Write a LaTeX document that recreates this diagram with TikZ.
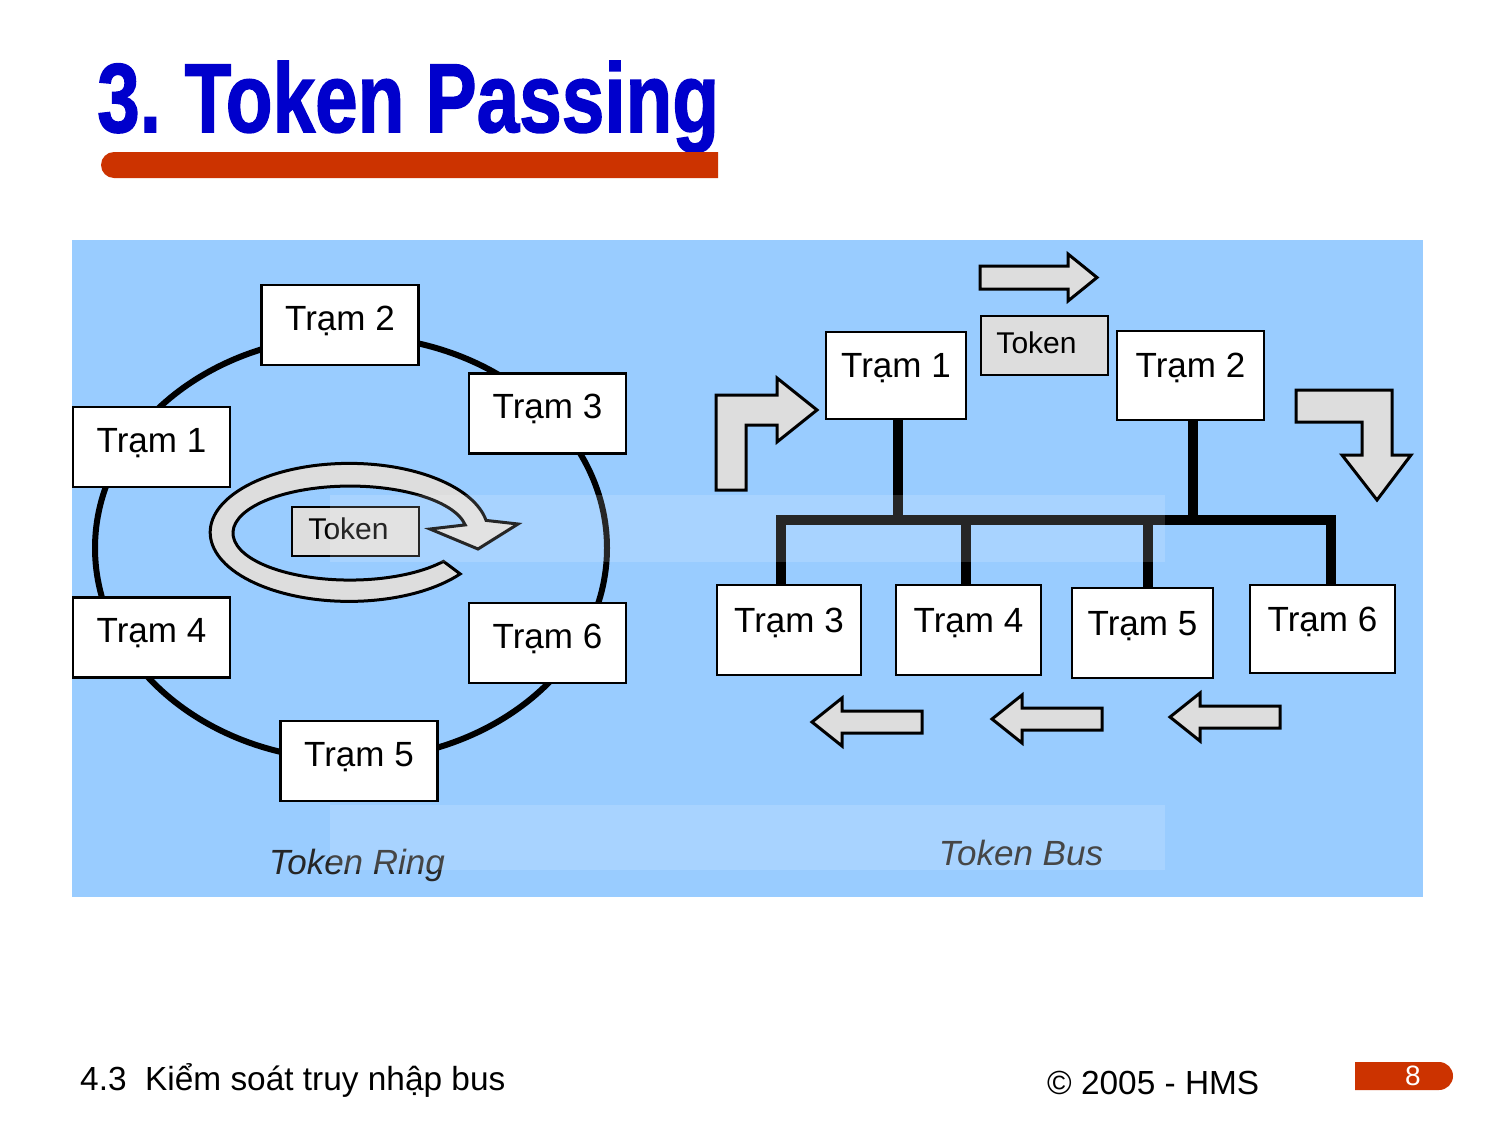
\documentclass[tikz,border=0pt]{standalone}
\usepackage{fontspec}
\setmainfont{Liberation Sans}
\newfontfamily\titlefont{Liberation Sans Bold}[FakeBold=1.6]
\usepackage{xcolor}
\definecolor{panelblue}{HTML}{99CCFF}
\definecolor{titleblue}{HTML}{0000CC}
\definecolor{barred}{HTML}{CC3300}
\definecolor{tokengray}{HTML}{DDDDDD}
\tikzset{
  station/.style={draw, line width=2.5pt, fill=white, inner sep=0pt,
    font=\fontsize{35}{35}\selectfont, text height=25pt, text depth=15pt},
  ringstation/.style={station, minimum width=157pt, minimum height=80pt},
  busstation/.style={station, text depth=21pt},
  tokenbox/.style={draw, line width=2.5pt, fill=tokengray, inner sep=0pt,
    font=\fontsize{30}{30}\selectfont, text height=21pt, text depth=6pt},
  blockarrow/.style={draw, line width=3pt, fill=tokengray, line join=miter},
  bus/.style={line width=10pt, line join=miter},
  caption/.style={font=\fontsize{35}{35}\selectfont\itshape, text=black!85}
}
\begin{document}
\begin{tikzpicture}[x=1pt, y=-1pt]
  \useasboundingbox[fill=white] (0,0) rectangle (1495,1122);
  % title and bar
  \node[anchor=base west, inner sep=0pt, text=titleblue,
    font=\fontsize{98}{98}\titlefont] (title) at (97,132)
    {\scalebox{0.781}[1]{3.\kern-6pt{} Token Passing}};
  \fill[barred] (718,152) -- (114,152) arc[start angle=270, end angle=90, radius=13] -- (718,178) -- cycle;
  % panel
  \fill[panelblue] (72,240) rectangle (1423,897);

  % token ring
  \draw[line width=6pt] (351,548) ellipse [x radius=256, y radius=212];
  \node[ringstation] (r2) at (340,325) {Trạm 2};
  \node[ringstation] (r3) at (547.5,413.5) {Trạm 3};
  \node[ringstation] (r1) at (151.5,447) {Trạm 1};
  \node[ringstation] (r4) at (151.5,637.5) {Trạm 4};
  \node[ringstation] (r6) at (547.5,643) {Trạm 6};
  \node[ringstation] (r5) at (359,761) {Trạm 5};
  \draw[blockarrow] (460.2,573.9) arc[start angle=37, end angle=350, x radius=139, y radius=69]
    -- (518,524) -- (478,549) -- (430,529) -- (465.2,524.9)
    arc[start angle=350, end angle=37, x radius=117, y radius=47] -- cycle;
  \node[tokenbox, minimum width=127pt, minimum height=49pt] (rtoken) at (355.5,531.5) {Token\kern14pt};

  % token bus
  \node[busstation, minimum width=140pt, minimum height=87pt] (b1) at (896,375.5) {Trạm 1};
  \node[busstation, minimum width=147pt, minimum height=89pt] (b2) at (1190.5,375.5) {Trạm 2};
  \node[tokenbox, minimum width=127pt, minimum height=59pt] (btoken) at (1044.5,345.5) {Token\kern16pt};
  \node[busstation, minimum width=144pt, minimum height=90pt] (b3) at (789,630) {Trạm 3};
  \node[busstation, minimum width=145pt, minimum height=90pt] (b4) at (968.5,630) {Trạm 4};
  \node[busstation, minimum width=141pt, minimum height=90pt] (b5) at (1142.5,633) {Trạm 5};
  \node[busstation, minimum width=145pt, minimum height=88pt] (b6) at (1322.5,629) {Trạm 6};
  \coordinate (bus) at (0,520);
  \coordinate (b3top) at ([xshift=-8pt]b3.north);
  \coordinate (b6top) at ([xshift=8pt]b6.north);
  \draw[bus] (b3top) |- (bus -| b6top) -- (b6top);
  \draw[bus] ([xshift=2pt]b1.south) -- ([xshift=2pt]b1.south |- bus);
  \draw[bus] ([xshift=2pt]b2.south) -- ([xshift=2pt]b2.south |- bus);
  \draw[bus] ([xshift=-3pt]b4.north) -- ([xshift=-3pt]b4.north |- bus);
  \draw[bus] ([xshift=5pt]b5.north) -- ([xshift=5pt]b5.north |- bus);
  % arrows
  \draw[blockarrow] (980,266) -- (1068,266) -- (1068,254) -- (1097,277.5) -- (1068,301) -- (1068,289) -- (980,289) -- cycle;
  \draw[blockarrow] (716,490) -- (716,395) -- (777,395) -- (777,378) -- (817,410) -- (777,442) -- (777,425) -- (746,425) -- (746,490) -- cycle;
  \draw[blockarrow] (1296,390) -- (1392,390) -- (1392,455) -- (1411,455) -- (1377,500) -- (1342,455) -- (1362,455) -- (1362,422) -- (1296,422) -- cycle;
  \foreach \dx/\dy in {0/0,180/-3,358/-5}
    \draw[blockarrow, shift={(\dx,\dy)}] (812,722) -- (842,698) -- (842,711) -- (922,711) -- (922,733) -- (842,733) -- (842,746) -- cycle;

  % captions
  \node[caption] (ringcap) at (357,865) {Token Ring};
  \node[caption] (buscap) at (1021,853) {Token Bus};
  % light bands
  \fill[white, opacity=0.15] (330,495) rectangle (1165,562);
  \fill[white, opacity=0.15] (330,805) rectangle (1165,870);

  % footer
  \node[anchor=base west, inner sep=0pt, font=\fontsize{33.4}{33.4}\selectfont] (topic) at (80,1090) {4.3\ \ Kiểm soát truy nhập bus};
  \node[anchor=base west, inner sep=0pt, font=\fontsize{33.4}{33.4}\selectfont] (copy) at (1047,1094) {© 2005 - HMS};
  \fill[barred] (1355,1062) -- (1439,1062) arc[start angle=-90, end angle=90, radius=14] -- (1355,1090) -- cycle;
  \node[text=white, inner sep=0pt, font=\fontsize{28}{28}\selectfont] (page) at (1413,1076) {8};
\end{tikzpicture}
\end{document}
